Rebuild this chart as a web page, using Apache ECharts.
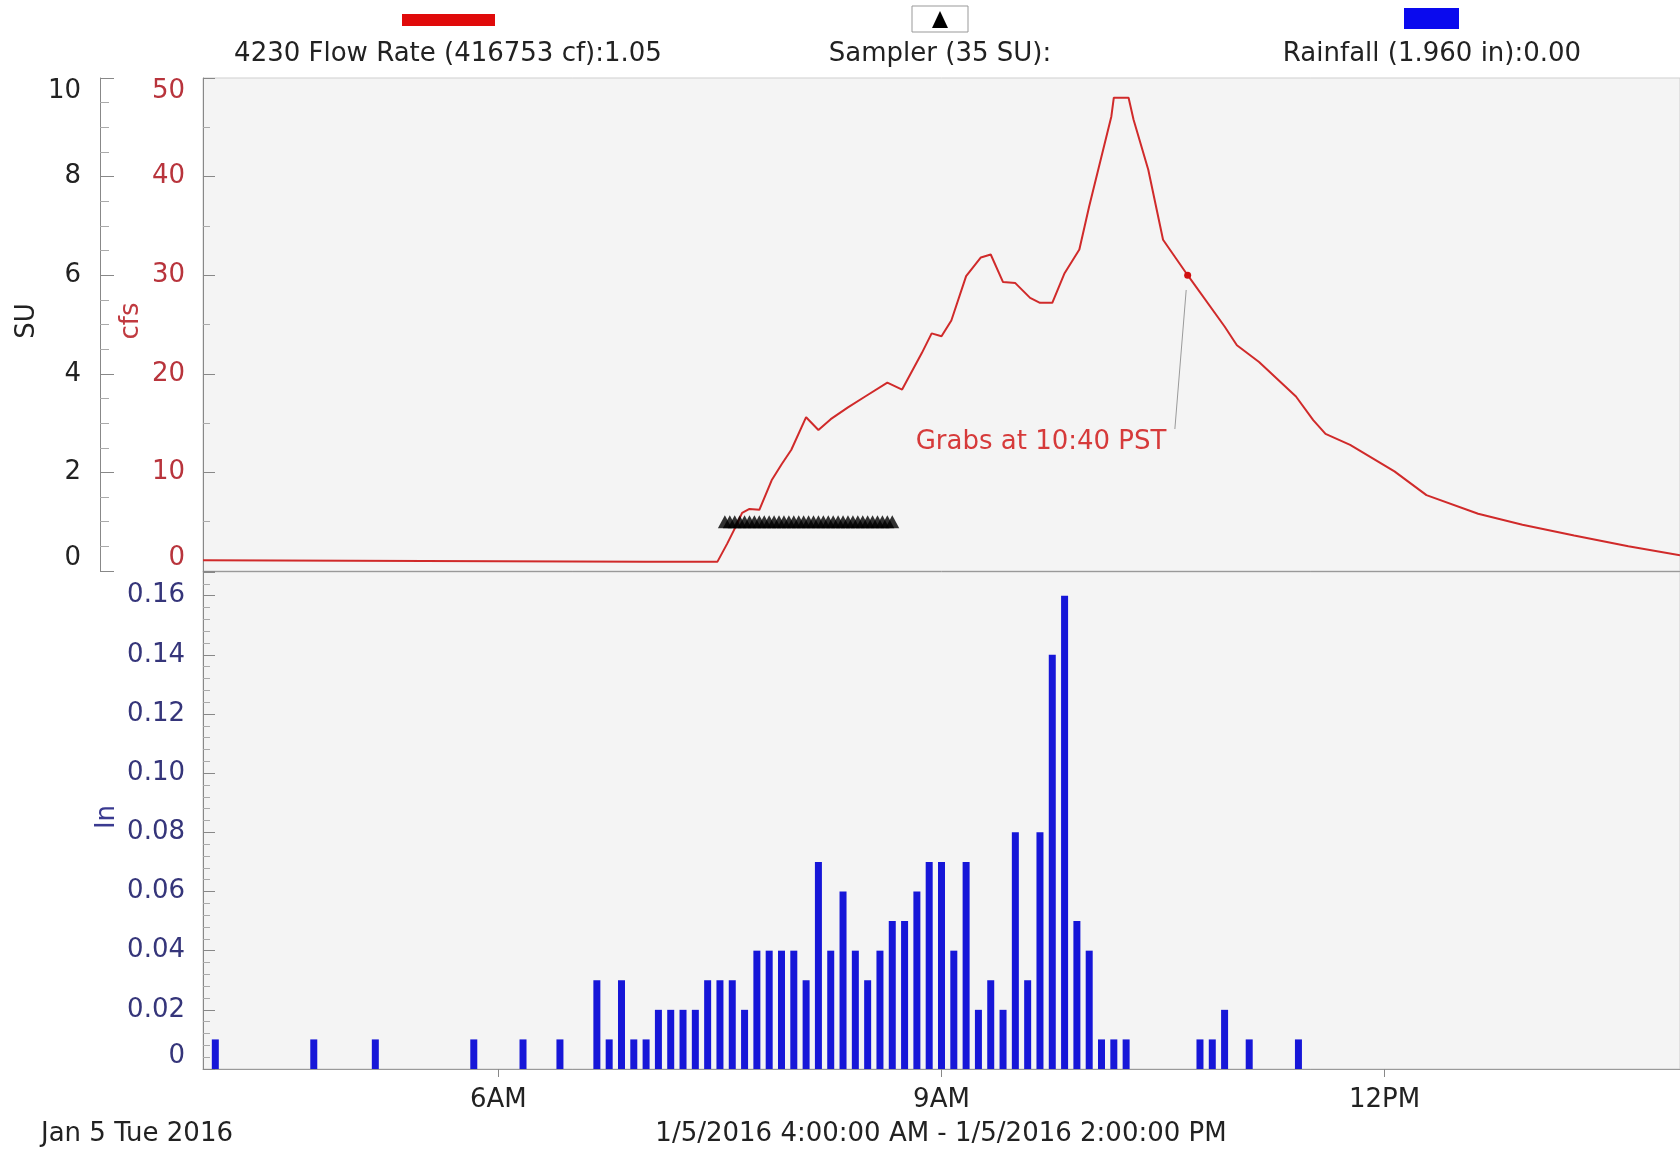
<!DOCTYPE html>
<html>
<head>
<meta charset="utf-8">
<script src="https://cdn.jsdelivr.net/npm/echarts@6/dist/echarts.min.js"></script>
<style>
html,body{margin:0;padding:0;background:#ffffff;}
#chart{width:1680px;height:1156px;}
</style>
</head>
<body>
<div id="chart"></div>
<script>
// ---- data (times as clock strings on Jan 5 2016) ----
const flowTimes = ['04:00','05:00','06:00','07:00','07:29','07:33','07:36','07:39','07:42','07:46','07:51','07:55','07:59','08:05','08:10','08:15','08:22','08:29','08:38','08:44','08:52','08:56','09:00','09:04','09:10','09:16','09:20','09:25','09:30','09:36','09:40','09:45','09:50','09:56','10:00','10:09','10:10','10:16','10:18','10:24','10:30','10:40','10:55','11:00','11:09','11:24','11:31','11:36','11:46','12:04','12:17','12:38','12:56','13:17','13:39','14:00'];
const flowValues = [1.1,1.05,1.0,0.95,0.95,2.8,4.3,5.9,6.3,6.2,9.2,10.8,12.3,15.6,14.3,15.4,16.6,17.7,19.1,18.4,22.1,24.1,23.8,25.4,29.9,31.8,32.1,29.3,29.2,27.7,27.2,27.2,30.2,32.6,37.0,46.1,48.0,48.0,45.8,40.7,33.6,30.0,24.8,22.9,21.2,17.7,15.3,13.9,12.8,10.1,7.7,5.8,4.7,3.6,2.5,1.6];

const rainTimes = ['04:05','04:45','05:10','05:50','06:10','06:25','06:40','06:45','06:50','06:55','07:00','07:05','07:10','07:15','07:20','07:25','07:30','07:35','07:40','07:45','07:50','07:55','08:00','08:05','08:10','08:15','08:20','08:25','08:30','08:35','08:40','08:45','08:50','08:55','09:00','09:05','09:10','09:15','09:20','09:25','09:30','09:35','09:40','09:45','09:50','09:55','10:00','10:05','10:10','10:15','10:45','10:50','10:55','11:05','11:25'];
const rainValues = [0.01,0.01,0.01,0.01,0.01,0.01,0.03,0.01,0.03,0.01,0.01,0.02,0.02,0.02,0.02,0.03,0.03,0.03,0.02,0.04,0.04,0.04,0.04,0.03,0.07,0.04,0.06,0.04,0.03,0.04,0.05,0.05,0.06,0.07,0.07,0.04,0.07,0.02,0.03,0.02,0.08,0.03,0.08,0.14,0.16,0.05,0.04,0.01,0.01,0.01,0.01,0.01,0.02,0.01,0.01];

const samplerTimes = ['07:32','07:34','07:36','07:38','07:40','07:42','07:44','07:46','07:48','07:50','07:52','07:54','07:56','07:58','08:00','08:02','08:04','08:06','08:08','08:10','08:12','08:14','08:16','08:18','08:20','08:22','08:24','08:26','08:28','08:30','08:32','08:34','08:36','08:38','08:40'];
const samplerLevel = 1; // SU

const xTickValues = [6, 9, 12];
const xTickLabels = ['6AM', '9AM', '12PM'];

const grabTime = '10:40';
const grabLabel = 'Grabs at 10:40 PST';

const legendFlow = '4230 Flow Rate (416753 cf):1.05';
const legendSampler = 'Sampler (35 SU):';
const legendRain = 'Rainfall (1.960 in):0.00';
const dateText = 'Jan 5 Tue 2016';
const rangeText = '1/5/2016 4:00:00 AM - 1/5/2016 2:00:00 PM';

// ---- helpers ----
function toHours(t){ const p = t.split(':'); return +p[0] + (+p[1])/60; }
const FONT = 'DejaVu Sans';
const FS = 26;

const flowData = flowTimes.map((t,i)=>[toHours(t), flowValues[i]]);
const rainData = rainTimes.map((t,i)=>[toHours(t), rainValues[i]]);
const samplerData = samplerTimes.map(t=>[toHours(t), samplerLevel]);
const grabX = toHours(grabTime);
const grabY = flowValues[flowTimes.indexOf(grabTime)];

const chart = echarts.init(document.getElementById('chart'), null, {renderer:'canvas'});

const option = {
  animation: false,
  backgroundColor: '#ffffff',
  textStyle: { fontFamily: FONT },
  grid: [
    { left: 203, right: 0, top: 78, height: 493, show: true, backgroundColor: '#f4f4f4', borderColor: '#cfcfcf', borderWidth: 1 },
    { left: 203, right: 0, top: 572, height: 497, show: true, backgroundColor: '#f4f4f4', borderColor: '#cfcfcf', borderWidth: 1 }
  ],
  xAxis: [
    { type: 'value', gridIndex: 0, min: 4, max: 14, interval: 1,
      axisLine: { show: true, lineStyle: { color: '#999' } },
      axisTick: { show: false }, axisLabel: { show: false }, splitLine: { show: false } },
    { type: 'value', gridIndex: 1, min: 4, max: 14, interval: 1,
      axisLine: { show: true, lineStyle: { color: '#999' } },
      axisTick: { show: true, customValues: xTickValues, length: 8, lineStyle: { color: '#888' } },
      axisLabel: { show: true, customValues: xTickValues, margin: 18, color: '#222', fontSize: FS, fontFamily: FONT,
        formatter: v => { const i = xTickValues.indexOf(v); return i >= 0 ? xTickLabels[i] : ''; } },
      splitLine: { show: false } }
  ],
  yAxis: [
    { type: 'value', gridIndex: 0, position: 'left', offset: 103, min: 0, max: 10, interval: 2,
      axisLine: { show: true, lineStyle: { color: '#888' } },
      axisTick: { show: true, inside: true, length: 14, lineStyle: { color: '#888' } },
      minorTick: { show: true, splitNumber: 4, length: 9, lineStyle: { color: '#aaa' } },
      axisLabel: { color: '#222', fontSize: FS, fontFamily: FONT, margin: 19,
        verticalAlignMinLabel: 'bottom', verticalAlignMaxLabel: 'top' },
      splitLine: { show: false } },
    { type: 'value', gridIndex: 0, position: 'left', offset: 0, min: 0, max: 50, interval: 10,
      axisLine: { show: true, lineStyle: { color: '#888' } },
      axisTick: { show: true, inside: true, length: 12, lineStyle: { color: '#888' } },
      minorTick: { show: true, splitNumber: 2, length: 7, lineStyle: { color: '#aaa' } },
      axisLabel: { color: '#b8343c', fontSize: FS, fontFamily: FONT, margin: 18,
        verticalAlignMinLabel: 'bottom', verticalAlignMaxLabel: 'top' },
      splitLine: { show: false } },
    { type: 'value', gridIndex: 1, position: 'left', min: 0, max: 0.168, interval: 0.02,
      axisLine: { show: true, lineStyle: { color: '#888' } },
      axisTick: { show: true, inside: true, length: 12, lineStyle: { color: '#888' } },
      minorTick: { show: true, splitNumber: 5, length: 7, lineStyle: { color: '#aaa' } },
      axisLabel: { color: '#35357a', fontSize: FS, fontFamily: FONT, margin: 18, showMaxLabel: false,
        verticalAlignMinLabel: 'bottom',
        formatter: v => v === 0 ? '0' : v.toFixed(2) },
      splitLine: { show: false } }
  ],
  series: [
    { name: 'Flow', type: 'line', xAxisIndex: 0, yAxisIndex: 1, data: flowData,
      showSymbol: false, symbol: 'none', smooth: false,
      lineStyle: { color: '#d02a2a', width: 2 }, z: 3,
      markPoint: {
        silent: true,
        data: [
          { coord: [grabX, grabY], symbol: 'circle', symbolSize: 7, itemStyle: { color: '#d01010' }, label: { show: false } },
          { coord: [9.674, 13.1], symbol: 'circle', symbolSize: 0,
            label: { show: true, position: 'inside', formatter: grabLabel, color: '#d63a3a', fontSize: FS, fontFamily: FONT } }
        ]
      },
      markLine: {
        silent: true, symbol: ['none','none'],
        lineStyle: { color: '#9a9a9a', width: 1, type: 'solid' },
        label: { show: false },
        data: [[ { coord: [grabX - 0.01, grabY - 1.5] }, { coord: [10.58, 14.4] } ]]
      }
    },
    { name: 'Sampler', type: 'scatter', xAxisIndex: 0, yAxisIndex: 0, data: samplerData,
      symbol: 'triangle', symbolSize: [14, 13], itemStyle: { color: '#000000' }, z: 4 },
    { name: 'Rainfall', type: 'bar', xAxisIndex: 1, yAxisIndex: 2, data: rainData,
      barWidth: 7, itemStyle: { color: '#1616d8' } }
  ],
  graphic: [
    { type: 'rect', shape: { x: 402, y: 14, width: 93, height: 12 }, style: { fill: '#e00a0a' } },
    { type: 'text', x: 448, y: 54, style: { text: legendFlow, font: FS + 'px "' + FONT + '"', fill: '#222', align: 'center', verticalAlign: 'middle' } },
    { type: 'rect', shape: { x: 912, y: 6, width: 56, height: 26 }, style: { fill: '#ffffff', stroke: '#999', lineWidth: 1 } },
    { type: 'polygon', shape: { points: [[932, 28], [948, 28], [940, 11]] }, style: { fill: '#000' } },
    { type: 'text', x: 940, y: 54, style: { text: legendSampler, font: FS + 'px "' + FONT + '"', fill: '#222', align: 'center', verticalAlign: 'middle' } },
    { type: 'rect', shape: { x: 1404, y: 8, width: 55, height: 21 }, style: { fill: '#0a0aee' } },
    { type: 'text', x: 1432, y: 54, style: { text: legendRain, font: FS + 'px "' + FONT + '"', fill: '#222', align: 'center', verticalAlign: 'middle' } },
    { type: 'text', x: 27, y: 321, rotation: Math.PI / 2, style: { text: 'SU', font: FS + 'px "' + FONT + '"', fill: '#222', align: 'center', verticalAlign: 'middle' } },
    { type: 'text', x: 131, y: 321, rotation: Math.PI / 2, style: { text: 'cfs', font: FS + 'px "' + FONT + '"', fill: '#c03a40', align: 'center', verticalAlign: 'middle' } },
    { type: 'text', x: 107, y: 817, rotation: Math.PI / 2, style: { text: 'In', font: FS + 'px "' + FONT + '"', fill: '#3a3a90', align: 'center', verticalAlign: 'middle' } },
    { type: 'text', x: 41, y: 1134, style: { text: dateText, font: FS + 'px "' + FONT + '"', fill: '#222', align: 'left', verticalAlign: 'middle' } },
    { type: 'text', x: 941, y: 1134, style: { text: rangeText, font: FS + 'px "' + FONT + '"', fill: '#222', align: 'center', verticalAlign: 'middle' } }
  ]
};
chart.setOption(option);
</script>
</body>
</html>
